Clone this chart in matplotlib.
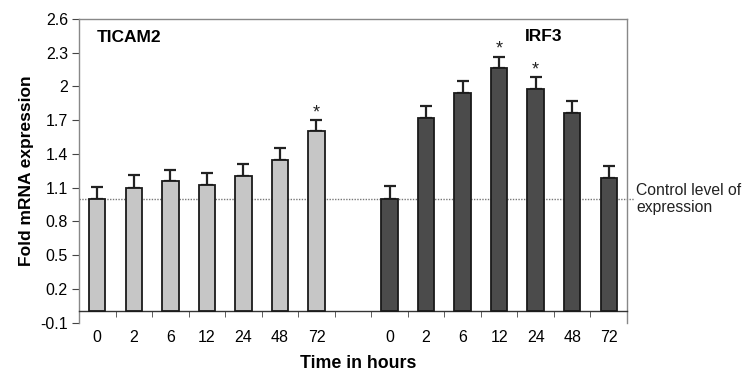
import matplotlib
matplotlib.use("Agg")
import matplotlib.pyplot as plt
import numpy as np

plt.rcParams['font.family'] = ['Liberation Sans', 'DejaVu Sans']

time_labels = ["0", "2", "6", "12", "24", "48", "72"]
ticam2_vals = [1.00, 1.10, 1.16, 1.125, 1.20, 1.35, 1.60]
ticam2_err = [0.11, 0.11, 0.10, 0.105, 0.11, 0.105, 0.10]
irf3_vals = [1.00, 1.72, 1.945, 2.165, 1.98, 1.765, 1.185]
irf3_err = [0.115, 0.105, 0.105, 0.10, 0.105, 0.11, 0.105]
ticam2_sig = [False, False, False, False, False, False, True]
irf3_sig = [False, False, False, True, True, False, False]
control_level = 1.0
yticks = [-0.1, 0.2, 0.5, 0.8, 1.1, 1.4, 1.7, 2.0, 2.3, 2.6]
ytick_labels = ["-0.1", "0.2", "0.5", "0.8", "1.1", "1.4", "1.7", "2", "2.3", "2.6"]

fig = plt.figure(figsize=(7.44, 3.74), dpi=100)
ax = fig.add_axes([79/744, 1-322.7/374, (627-79)/744, (322.7-19)/374])

n = len(time_labels)
x_left = np.arange(n)
x_right = np.arange(n) + n + 1
w = 0.45
ekw = dict(ecolor='#222222', elinewidth=1.6, capsize=4, capthick=1.6)

ax.bar(x_left, ticam2_vals, width=w, color='#c6c6c6', edgecolor='#1a1a1a', linewidth=1.3, zorder=3)
ax.errorbar(x_left, ticam2_vals, yerr=[np.zeros(n), ticam2_err], fmt='none', zorder=2, **ekw)
ax.bar(x_right, irf3_vals, width=w, color='#4b4b4b', edgecolor='#1a1a1a', linewidth=1.3, zorder=3)
ax.errorbar(x_right, irf3_vals, yerr=[np.zeros(n), irf3_err], fmt='none', zorder=2, **ekw)

for xs, vals, errs, sig in [(x_left, ticam2_vals, ticam2_err, ticam2_sig), (x_right, irf3_vals, irf3_err, irf3_sig)]:
    for xi, v, e, s in zip(xs, vals, errs, sig):
        if s:
            ax.text(xi, v + e - 0.01, "*", ha='center', va='bottom', fontsize=13, color='#222222')

ax.set_xlim(-0.5, 2*n + 0.5)
ax.set_ylim(-0.1, 2.6)
ax.set_yticks(yticks)
ax.set_yticklabels(ytick_labels)

# control line extends past the right edge
ax.plot([-0.5, 2*n + 0.68], [control_level, control_level], ls=(0, (1, 1)), color='#777777', lw=1, clip_on=False, zorder=1)
ax.text(2*n + 0.75, control_level, "Control level of\nexpression", fontsize=11.3, va='center', ha='left', color='#222222', linespacing=1.1)

# x ticks
xt = list(x_left) + list(x_right)
ax.set_xticks(xt)
ax.set_xticklabels(time_labels + time_labels)
ax.set_xticks([i + 0.5 for i in range(0, 2*n + 1)], minor=True)
ax.tick_params(axis='x', which='major', length=0, pad=13, labelsize=11.5)
ax.tick_params(axis='x', which='minor', length=4, direction='out', color='#444444')
ax.tick_params(axis='y', length=5, color='#444444', pad=3, labelsize=11.5)

ax.spines['bottom'].set_position(('data', 0))
for s in ['top', 'right', 'left']:
    ax.spines[s].set_color('#888888')
ax.spines['bottom'].set_color('#333333')
for s in ax.spines.values():
    s.set_linewidth(1.0)

ax.text(0.032, 0.9375, "TICAM2", transform=ax.transAxes, fontsize=12.5, fontweight='bold', va='center')
ax.text(0.814, 0.943, "IRF3", transform=ax.transAxes, fontsize=12.5, fontweight='bold', va='center')

ax.set_ylabel("Fold mRNA expression", fontsize=12.5, fontweight='bold')
ax.yaxis.set_label_coords(-0.082, 0.5)
fig.text(358/744, 1-363/374, "Time in hours", fontsize=12.8, fontweight='bold', ha='center', va='center')

fig.savefig("out.png", dpi=100)
